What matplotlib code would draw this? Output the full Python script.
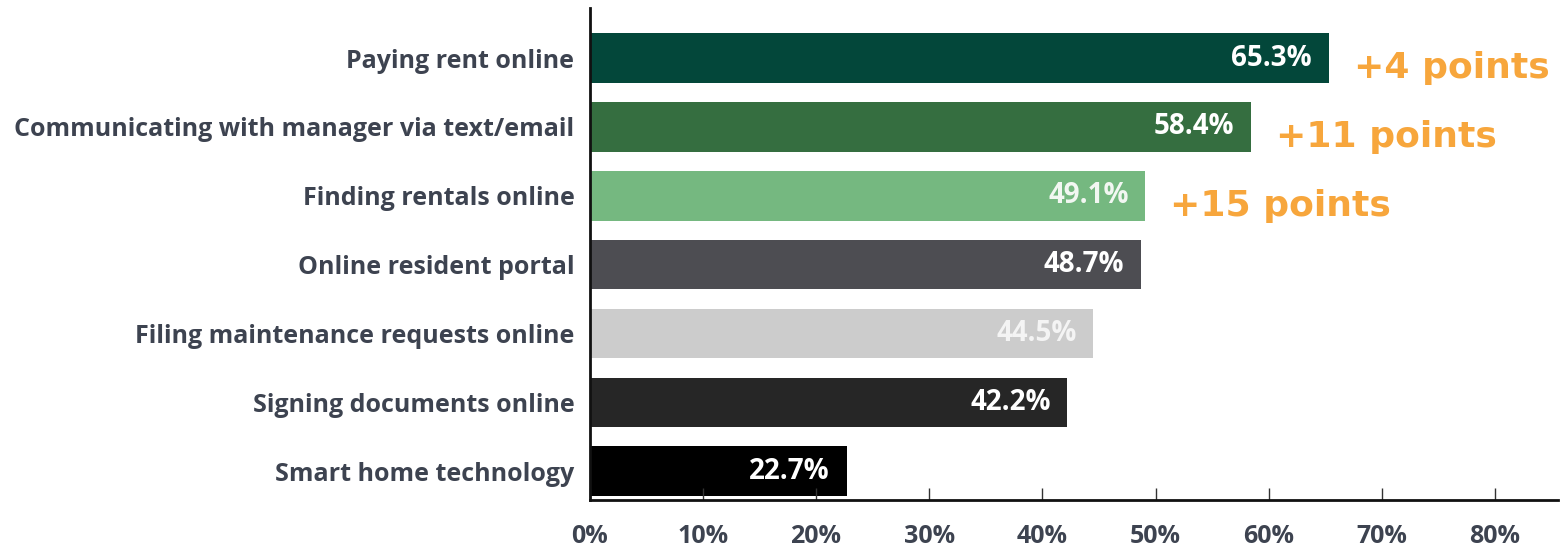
import matplotlib
matplotlib.use("Agg")
import matplotlib.pyplot as plt
import numpy as np

categories = [
    "Paying rent online",
    "Communicating with manager via text/email",
    "Finding rentals online",
    "Online resident portal",
    "Filing maintenance requests online",
    "Signing documents online",
    "Smart home technology",
]
values = [65.3, 58.4, 49.1, 48.7, 44.5, 42.2, 22.7]
bar_colors = ["#03473a", "#356e40", "#75b880", "#4d4d52", "#cccccc", "#262626", "#000000"]
value_colors = ["white", "white", "#f2f7f2", "white", "#f4f4f4", "white", "white"]
changes = ["+4 points", "+11 points", "+15 points"]
xticks = [0, 10, 20, 30, 40, 50, 60, 70, 80]

label_color = "#3d4350"
orange = "#f7a63c"

fig = plt.figure(figsize=(15.6, 5.49), dpi=100)
ax = fig.add_axes([0.378, 0.089, 0.621, 0.896])

y = np.arange(len(categories))
ax.barh(y, values, height=0.72, color=bar_colors)

for i, (v, c) in enumerate(zip(values, value_colors)):
    ax.annotate(f"{v:.1f}%", (v, i), xytext=(-12, 0), textcoords="offset points",
                ha="right", va="center", color=c, fontsize=20, fontweight="bold",
                family="Open Sans")

for i, txt in enumerate(changes):
    ax.annotate(txt, (values[i], i), xytext=(18, -7), textcoords="offset points",
                ha="left", va="center", color=orange, fontsize=26, fontweight="bold",
                family="DejaVu Sans")

ax.set_xlim(0, 85.6)
ax.set_ylim(len(categories) - 0.58, -0.725)

ax.set_yticks(y)
ax.set_yticklabels(categories, fontsize=18, fontweight="bold", color=label_color,
                   family="Open Sans")
ax.tick_params(axis="y", length=0, pad=11)

ax.set_xticks(xticks)
ax.set_xticklabels([f"{t}%" for t in xticks], fontsize=18, fontweight="bold",
                   color=label_color, family="Open Sans")
ax.tick_params(axis="x", direction="in", length=9, width=1, color="#333333", pad=17)

for s in ["top", "right"]:
    ax.spines[s].set_visible(False)
ax.spines["left"].set_linewidth(2)
ax.spines["bottom"].set_linewidth(2)
ax.spines["left"].set_color("#111111")
ax.spines["bottom"].set_color("#111111")

fig.savefig("out.png", dpi=100)
